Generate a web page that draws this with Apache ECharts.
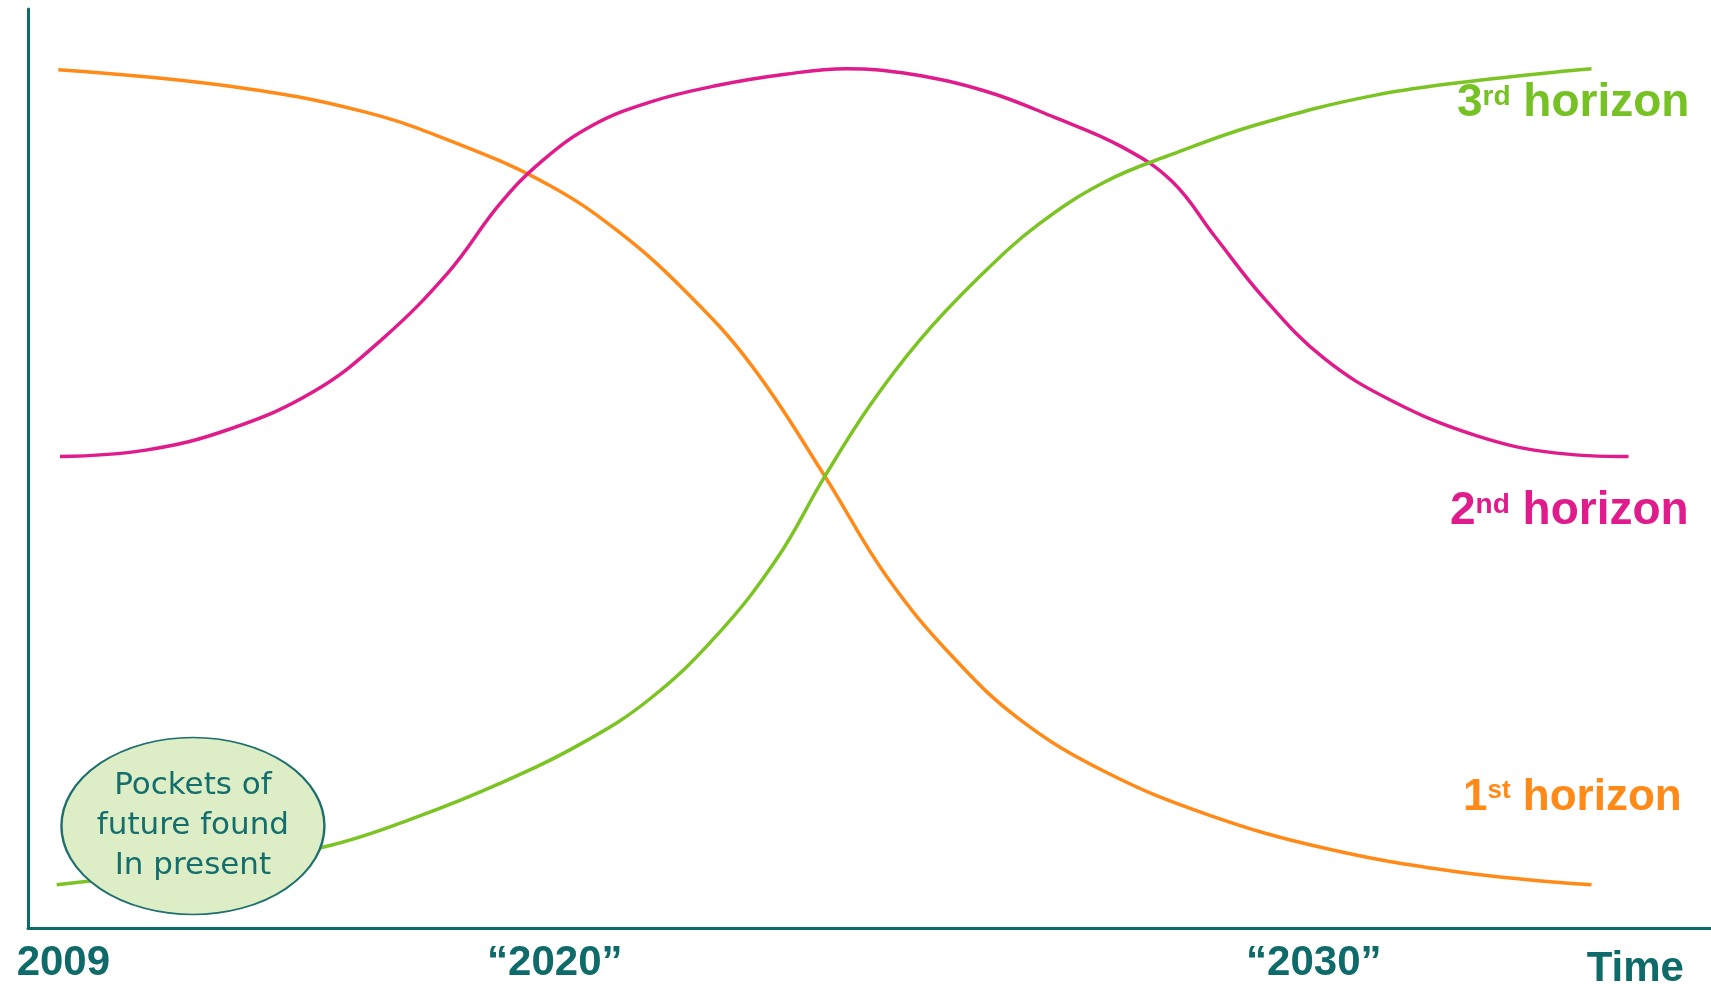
<!DOCTYPE html>
<html><head><meta charset="utf-8">
<script src="https://cdn.jsdelivr.net/npm/echarts@6/dist/echarts.min.js"></script>
<style>html,body{margin:0;padding:0;background:#fff}#c{width:1711px;height:990px}</style>
</head><body><div id="c"></div>
<script>
// x: time (arbitrary units 0-100), y: relative prevalence (0-100)
const firstHorizon = [[1.8,93.4],[12,91.6],[20,88.8],[26,85.0],[31,80.8],[35,75.9],[39,69.4],[43,61.2],[47.3,49.3],[51,38.3],[55,29.4],[59,22.6],[64,17.0],[70,12.4],[77,8.7],[85,6.1],[92.9,4.7]];
const secondHorizon = [[1.9,51.3],[7,52.0],[12,54.3],[17,58.4],[21,64.0],[25,71.4],[28,78.7],[30.5,83.4],[33.5,87.3],[37,89.9],[41,91.7],[45,92.9],[48.6,93.5],[52.5,92.9],[57,91.0],[61,88.2],[65,85.0],[68,81.2],[70.5,75.3],[73.5,68.4],[77,62.0],[81,57.4],[86,53.6],[90.7,51.7],[95.1,51.3]];
const thirdHorizon = [[1.7,4.7],[6,5.6],[12,7.0],[18,9.0],[23,12.0],[28,15.7],[33,20.2],[37,25.0],[41,32.0],[44.5,40.2],[47.3,49.0],[50,56.8],[53,64.0],[56.5,70.8],[60,76.5],[64,81.2],[68,84.2],[73,87.4],[80,90.6],[87,92.4],[92.9,93.5]];
const tickValues = [2.1, 31.3, 76.4, 95.5];
const tickLabels = ['2009', '\u201C2020\u201D', '\u201C2030\u201D', 'Time'];
const seriesNames = ['1st horizon', '2nd horizon', '3rd horizon'];
const labelNums = ['1', '2', '3'];
const labelSups = ['st', 'nd', 'rd'];
const labelWord = 'horizon';
const noteLines = ['Pockets of', 'future found', 'In present'];
const notePoint = [[9.8, 11.1]];

const teal = '#0F6B6A';
const colors = ['#FF8A17', '#E01C8C', '#7CC424'];
const textColors = ['#FF8A17', '#E01C8C', '#76C123'];
const labelPos = [[1463, 773], [1450, 486], [1457, 78]];
const labelSizes = [44, 46, 46];

const chart = echarts.init(document.getElementById('c'), null, {renderer: 'canvas'});

function horizonLabel(i) {
  const fs = labelSizes[i];
  return {
    type: 'text', x: labelPos[i][0], y: labelPos[i][1], z: 10,
    style: {
      text: '{n|' + labelNums[i] + '}{s|' + labelSups[i] + '}{n| ' + labelWord + '}',
      textAlign: 'left', textVerticalAlign: 'top', align: 'left', verticalAlign: 'top',
      rich: {
        n: {fontSize: fs, fontWeight: 'bold', fontFamily: 'Liberation Sans', fill: textColors[i], color: textColors[i], lineHeight: 50},
        s: {fontSize: Math.round(fs * 0.6), fontWeight: 'bold', fontFamily: 'Liberation Sans', fill: textColors[i], color: textColors[i], lineHeight: 28, verticalAlign: 'top', padding: [5, 0, 0, 0]}
      }
    }
  };
}

const lineData = [firstHorizon, secondHorizon, thirdHorizon];
const series = lineData.map((d, i) => ({
  name: seriesNames[i], type: 'line', data: d, smooth: 0.4, showSymbol: false, z: 2,
  lineStyle: {color: colors[i], width: 3.5}, itemStyle: {color: colors[i]}, silent: true
}));
series.push({
  type: 'scatter', data: notePoint, symbol: 'circle', symbolSize: [263, 177], silent: true, z: 5,
  itemStyle: {color: '#DDEDC6', borderColor: '#1E6F6D', borderWidth: 2, opacity: 1},
  label: {show: true, position: 'inside', formatter: noteLines.join('\n'), fontFamily: 'DejaVu Sans', fontSize: 31, lineHeight: 40, color: '#146E6C'}
});

chart.setOption({
  animation: false,
  backgroundColor: '#ffffff',
  grid: {left: 28, right: 0, top: 9, bottom: 62, containLabel: false},
  xAxis: {
    type: 'value', min: 0, max: 100,
    axisLine: {show: true, onZero: false, lineStyle: {color: teal, width: 3}},
    axisTick: {show: false}, splitLine: {show: false},
    axisLabel: {
      customValues: tickValues,
      formatter: function (v) {
        let idx = 0, best = Infinity;
        tickValues.forEach((t, k) => { if (Math.abs(t - v) < best) { best = Math.abs(t - v); idx = k; } });
        return idx === 3 ? '{t|' + tickLabels[idx] + '}' : tickLabels[idx];
      },
      color: teal, fontSize: 42, fontWeight: 'bold', fontFamily: 'Liberation Sans', margin: 14,
      rich: {t: {color: teal, fontSize: 42, fontWeight: 'bold', fontFamily: 'Liberation Sans', padding: [6, 0, 0, 0]}}
    }
  },
  yAxis: {
    type: 'value', min: 0, max: 100,
    axisLine: {show: true, lineStyle: {color: teal, width: 3}},
    axisTick: {show: false}, axisLabel: {show: false}, splitLine: {show: false}
  },
  series: series,
  graphic: [horizonLabel(0), horizonLabel(1), horizonLabel(2)]
});
</script></body></html>
